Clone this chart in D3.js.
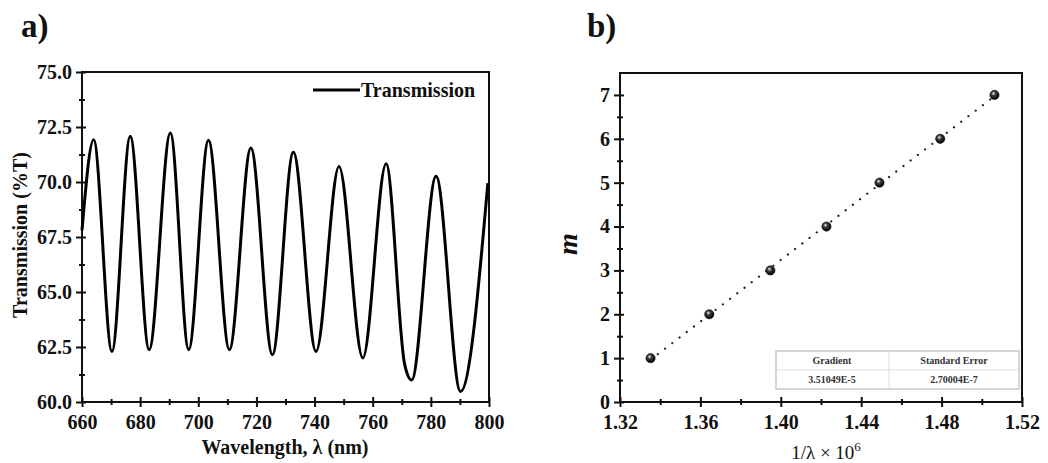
<!DOCTYPE html>
<html>
<head>
<meta charset="utf-8">
<script src="https://cdn.jsdelivr.net/npm/d3@7"></script>
<style>
  body { margin: 0; background: #fff; }
  svg text { font-family: "Liberation Serif", "Times New Roman", "DejaVu Serif", serif !important; fill: #111; }
</style>
</head>
<body>
<script>
// panel a) transmission spectrum, read off at peaks / troughs
var wavelength = [660, 664.0, 670.3, 676.6, 683.1, 690.4, 696.7, 703.5, 710.7, 718.1, 725.5, 732.7, 740.5, 748.4, 756.6, 764.6, 771.0, 773.4, 781.8, 790.2, 799.6]
var transmission = [67.8, 71.92, 62.3, 72.08, 62.38, 72.23, 62.38, 71.9, 62.38, 71.55, 62.15, 71.35, 62.3, 70.7, 62.0, 70.83, 61.7, 61.0, 70.26, 60.48, 69.95]
var aTicksX = [660, 680, 700, 720, 740, 760, 780, 800]
var aTicksY = [60, 62.5, 65, 67.5, 70, 72.5, 75]

// panel b) order m against 1/lambda
var invLambda = [1.3352, 1.3644, 1.3948, 1.4227, 1.4491, 1.4793, 1.5063]
var order = [1, 2, 3, 4, 5, 6, 7]
var bTicksX = [1.32, 1.36, 1.40, 1.44, 1.48, 1.52]
var bTicksY = [0, 1, 2, 3, 4, 5, 6, 7]
var tableHead = ["Gradient", "Standard Error"]
var tableVals = ["3.51049E-5", "2.70004E-7"]

var serif = "'Liberation Serif', 'Times New Roman', serif"

var svg = d3.select("body").append("svg")
    .attr("width", 1048)
    .attr("height", 463)
    .style("font-family", serif)

// gradient for the shaded ball markers
var grad = svg.append("defs").append("radialGradient")
    .attr("id", "ball").attr("cx", "40%").attr("cy", "35%").attr("r", "60%")
grad.append("stop").attr("offset", "0%").attr("stop-color", "#fff")
grad.append("stop").attr("offset", "35%").attr("stop-color", "#444")
grad.append("stop").attr("offset", "100%").attr("stop-color", "#000")

// ticks that cross the axis line, like Origin draws them
function crossTicks(g, inner, outer, horiz) {
    if (horiz) g.selectAll(".tick line").attr("y1", -inner).attr("y2", outer)
    else g.selectAll(".tick line").attr("x1", inner).attr("x2", -outer)
    g.selectAll(".tick line").attr("stroke", "#111").attr("stroke-width", 2)
    g.select(".domain").remove()
    g.attr("font-family", null)
    g.selectAll("text").style("font-family", serif).style("font-size", "20px")
        .style("font-weight", "bold").attr("fill", "#111")
}

function drawFrame(x, y) {
    var x0 = x.range()[0], x1 = x.range()[1], y0 = y.range()[0], y1 = y.range()[1]
    svg.append("rect")
        .attr("x", x0).attr("y", y1).attr("width", x1 - x0).attr("height", y0 - y1)
        .attr("fill", "none").attr("stroke", "#111").attr("stroke-width", 2)
}

function axes(x, y, xMajor, xMinor, yMajor, yMinor, fmtX, fmtY) {
    var bottom = y.range()[0], left = x.range()[0]
    var gx = svg.append("g").attr("transform", "translate(0," + bottom + ")")
    gx.call(d3.axisBottom(x).tickValues(xMinor).tickFormat(""))
    crossTicks(gx, 3, 3, true)
    var gx2 = svg.append("g").attr("transform", "translate(0," + bottom + ")")
    gx2.call(d3.axisBottom(x).tickValues(xMajor).tickFormat(fmtX).tickSizeInner(5).tickPadding(8))
    crossTicks(gx2, 5, 5, true)

    var gy = svg.append("g").attr("transform", "translate(" + left + ",0)")
    gy.call(d3.axisLeft(y).tickValues(yMinor).tickFormat(""))
    crossTicks(gy, 3, 3, false)
    var gy2 = svg.append("g").attr("transform", "translate(" + left + ",0)")
    gy2.call(d3.axisLeft(y).tickValues(yMajor).tickFormat(fmtY).tickSizeInner(6).tickPadding(4))
    crossTicks(gy2, 4, 6, false)
}

function label(x, y, size, txt) {
    return svg.append("text").attr("x", x).attr("y", y)
        .style("font-family", serif).style("font-size", size + "px")
        .style("font-weight", "bold").text(txt)
}

// ---------------- panel a) ----------------
var xa = d3.scaleLinear().domain([660, 800]).range([82, 489])
var ya = d3.scaleLinear().domain([60, 75]).range([402, 72])

drawFrame(xa, ya)
axes(xa, ya, aTicksX, d3.range(670, 800, 20), aTicksY, d3.range(61.25, 75, 2.5),
    d3.format("d"), d3.format(".1f"))

var line = d3.line()
    .x(function(d, i) { return xa(wavelength[i]) })
    .y(function(d) { return ya(d) })
    .curve(d3.curveMonotoneX)

svg.append("path")
    .datum(transmission)
    .attr("d", line)
    .attr("fill", "none")
    .attr("stroke", "#000")
    .attr("stroke-width", 3)

// legend
svg.append("line").attr("x1", 313).attr("x2", 360).attr("y1", 90).attr("y2", 90)
    .attr("stroke", "#000").attr("stroke-width", 3)
label(361, 97, 20, "Transmission")

label(285, 454, 20, "Wavelength, λ (nm)").attr("text-anchor", "middle")
label(0, 0, 20, "Transmission (%T)").attr("text-anchor", "middle")
    .attr("transform", "translate(27,235) rotate(-90)")
label(21, 37, 33, "a)")

// ---------------- panel b) ----------------
var xb = d3.scaleLinear().domain([1.32, 1.52]).range([620, 1022])
var yb = d3.scaleLinear().domain([0, 7.5]).range([402, 73])

drawFrame(xb, yb)
axes(xb, yb, bTicksX, d3.range(1.34, 1.52, 0.04), bTicksY, d3.range(0.5, 7.5, 1),
    d3.format(".2f"), d3.format("d"))

// least squares fit, dotted
var mx = d3.mean(invLambda), my = d3.mean(order)
var sxy = d3.sum(invLambda, function(v, i) { return (v - mx) * (order[i] - my) })
var sxx = d3.sum(invLambda, function(v) { return (v - mx) * (v - mx) })
var slope = sxy / sxx, icpt = my - slope * mx
var xf = d3.extent(invLambda)
svg.append("line")
    .attr("x1", xb(xf[0])).attr("y1", yb(slope * xf[0] + icpt))
    .attr("x2", xb(xf[1])).attr("y2", yb(slope * xf[1] + icpt))
    .attr("stroke", "#222").attr("stroke-width", 2.2)
    .attr("stroke-linecap", "round").attr("stroke-dasharray", "0.1,9")

svg.append("g").selectAll("circle")
    .data(order)
    .enter()
    .append("circle")
    .attr("cx", function(d, i) { return xb(invLambda[i]) })
    .attr("cy", function(d) { return yb(d) })
    .attr("r", 4.6)
    .attr("fill", "url(#ball)")
    .attr("stroke", "#000").attr("stroke-width", 0.6)

// fit result table
var tx = 776, ty = 351, tw = 243, rh = 19
var tab = svg.append("g")
tab.append("rect").attr("x", tx).attr("y", ty).attr("width", tw).attr("height", rh * 2)
    .attr("fill", "#fff").attr("stroke", "#c8c8c8").attr("stroke-width", 1.5)
tab.append("line").attr("x1", tx).attr("x2", tx + tw).attr("y1", ty + rh).attr("y2", ty + rh)
    .attr("stroke", "#ddd")
tab.append("line").attr("x1", tx + 113).attr("x2", tx + 113).attr("y1", ty).attr("y2", ty + rh * 2)
    .attr("stroke", "#ddd")
var colX = [tx + 56, tx + 178]
tableHead.forEach(function(t, i) {
    label(colX[i], ty + 13, 10, t).attr("text-anchor", "middle").style("fill", "#333")
})
tableVals.forEach(function(t, i) {
    label(colX[i], ty + rh + 13, 10, t).attr("text-anchor", "middle").style("fill", "#333")
})

var xt = svg.append("text").attr("x", 826).attr("y", 459).attr("text-anchor", "middle")
    .style("font-family", serif).style("font-size", "19px")
xt.append("tspan").text("1/λ × 10")
xt.append("tspan").attr("dy", -8).style("font-size", "13px").text("6")

label(0, 0, 28, "m").attr("text-anchor", "middle").style("font-style", "italic")
    .attr("transform", "translate(577,244) rotate(-90)")
label(587, 37, 33, "b)")
</script>
</body>
</html>
